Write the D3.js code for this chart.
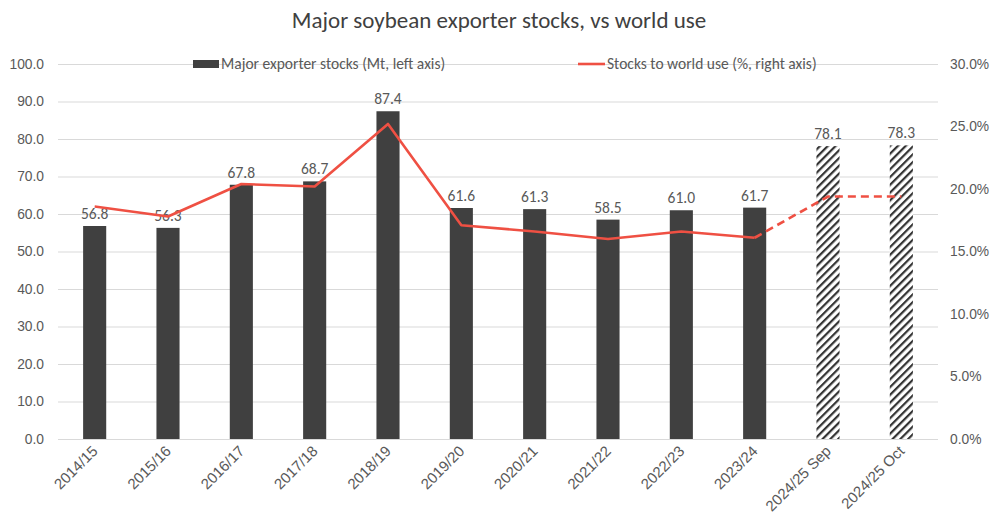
<!DOCTYPE html>
<html>
<head>
<meta charset="utf-8">
<script src="https://cdn.jsdelivr.net/npm/d3@7"></script>
<style>
  html, body { margin: 0; padding: 0; background: #fff; }
  svg { display: block; font-family: Carlito, Lato, "Open Sans", sans-serif; }
</style>
</head>
<body>
<svg id="chart" width="992" height="515"></svg>
<script>
const categories = ["2014/15","2015/16","2016/17","2017/18","2018/19","2019/20","2020/21","2021/22","2022/23","2023/24","2024/25 Sep","2024/25 Oct"];
const stocks = [56.8, 56.3, 67.8, 68.7, 87.4, 61.6, 61.3, 58.5, 61.0, 61.7, 78.1, 78.3];
const stocksToUse = [18.6, 17.8, 20.4, 20.2, 25.2, 17.1, 16.6, 16.0, 16.6, 16.1, 19.4, 19.4];
const forecast = [false,false,false,false,false,false,false,false,false,false,true,true];
const leftTicks = [0,10,20,30,40,50,60,70,80,90,100];
const rightTicks = [0,5,10,15,20,25,30];
const title = "Major soybean exporter stocks, vs world use";
const legendLabels = ["Major exporter stocks (Mt, left axis)", "Stocks to world use (%, right axis)"];

const svg = d3.select("#chart");
const barColor = "#404040", lineColor = "#EF5043", gridColor = "#d9d9d9", textColor = "#595959";

const x = d3.scaleBand().domain(categories).range([58, 938]).paddingInner(0.685).paddingOuter(0.3425);
const yL = d3.scaleLinear().domain([0, 100]).range([439, 64]);
const yR = d3.scaleLinear().domain([0, 30]).range([439, 64]);

// hatch pattern
const defs = svg.append("defs");
const pat = defs.append("pattern").attr("id", "hatch").attr("patternUnits", "userSpaceOnUse")
  .attr("width", 5.5).attr("height", 5.5).attr("patternTransform", "rotate(45)");
pat.append("rect").attr("width", 5.5).attr("height", 5.5).attr("fill", "#fff");
pat.append("rect").attr("x", 0).attr("width", 2.2).attr("height", 5.5).attr("fill", "#333");

// title
svg.append("text").attr("x", 499).attr("y", 28).attr("text-anchor", "middle")
  .attr("font-size", 23).attr("fill", "#404040").text(title);

// gridlines
svg.append("g").selectAll("line").data(leftTicks).join("line")
  .attr("x1", 58).attr("x2", 938).attr("y1", d => yL(d) + 0.5).attr("y2", d => yL(d) + 0.5)
  .attr("stroke", gridColor).attr("stroke-width", 1);

// left axis
const gl = svg.append("g").attr("transform", "translate(58,0)")
  .call(d3.axisLeft(yL).tickValues(leftTicks).tickFormat(d3.format(".1f")).tickSize(0).tickPadding(14));
gl.select(".domain").remove();
gl.selectAll("text").attr("font-size", 13.8).attr("fill", textColor).attr("font-family", null);

// right axis
const gr = svg.append("g").attr("transform", "translate(938,0)")
  .call(d3.axisRight(yR).tickValues(rightTicks).tickFormat(d => d.toFixed(1) + "%").tickSize(0).tickPadding(12));
gr.select(".domain").remove();
gr.selectAll("text").attr("font-size", 13.8).attr("fill", textColor).attr("font-family", null);

// bottom axis labels
const gb = svg.append("g").attr("transform", "translate(0,439)")
  .call(d3.axisBottom(x).tickSize(0).tickPadding(0));
gb.select(".domain").remove();
gb.selectAll("text").attr("font-size", 15).attr("fill", textColor).attr("font-family", null)
  .attr("text-anchor", "end").attr("dy", null)
  .attr("transform", "translate(4,13) rotate(-45)");

// bars
svg.append("g").selectAll("rect").data(categories).join("rect")
  .attr("x", d => x(d)).attr("width", x.bandwidth())
  .attr("y", (d, i) => yL(stocks[i])).attr("height", (d, i) => yL(0) - yL(stocks[i]))
  .attr("fill", (d, i) => forecast[i] ? "url(#hatch)" : barColor);

// data labels
svg.append("g").selectAll("text").data(categories).join("text")
  .attr("x", d => x(d) + x.bandwidth() / 2).attr("y", (d, i) => yL(stocks[i]) - 7)
  .attr("text-anchor", "middle").attr("font-size", 15.5).attr("fill", textColor)
  .text((d, i) => stocks[i].toFixed(1));

// line
const pts = categories.map((c, i) => [x(c) + x.bandwidth() / 2, yR(stocksToUse[i])]);
const lastActual = forecast.indexOf(true) - 1;
const line = d3.line();
svg.append("path").attr("d", line(pts.slice(0, lastActual + 1)))
  .attr("fill", "none").attr("stroke", lineColor).attr("stroke-width", 2.6).attr("stroke-linejoin", "round");
svg.append("path").attr("d", line(pts.slice(lastActual)))
  .attr("fill", "none").attr("stroke", lineColor).attr("stroke-width", 2.6)
  .attr("stroke-dasharray", "8,5");

// legend
const lg = svg.append("g");
lg.append("rect").attr("x", 193).attr("y", 60).attr("width", 26).attr("height", 8).attr("fill", barColor);
lg.append("text").attr("x", 221).attr("y", 69).attr("font-size", 15.5).attr("fill", textColor).text(legendLabels[0]);
lg.append("line").attr("x1", 578).attr("x2", 605).attr("y1", 64).attr("y2", 64)
  .attr("stroke", lineColor).attr("stroke-width", 2.6);
lg.append("text").attr("x", 607).attr("y", 69).attr("font-size", 15.5).attr("fill", textColor).text(legendLabels[1]);
</script>
</body>
</html>
